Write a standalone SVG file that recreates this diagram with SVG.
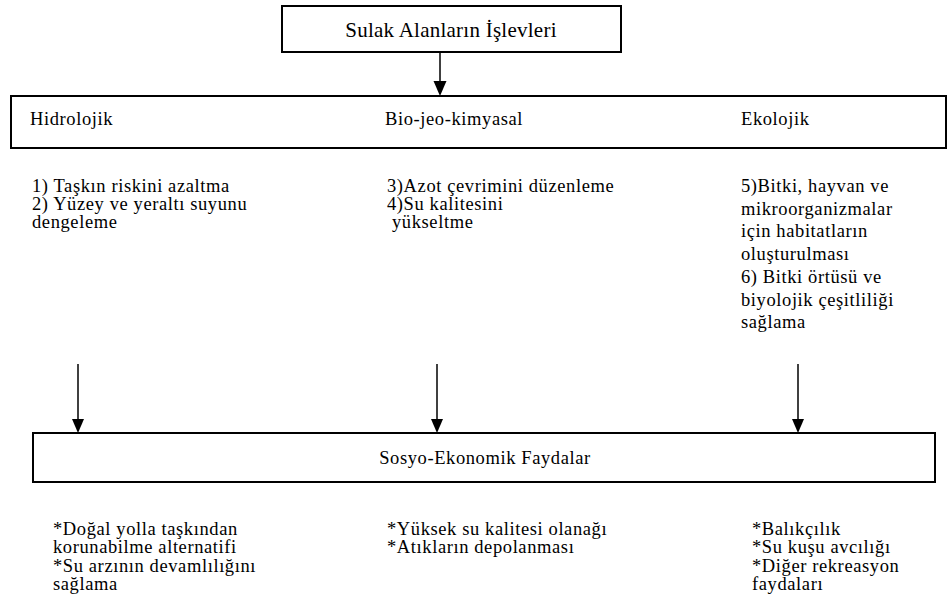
<svg xmlns="http://www.w3.org/2000/svg" width="948" height="606" viewBox="0 0 948 606">
<defs>
<style>
.box{fill:#fff;stroke:#000;stroke-width:2}
.t{font-family:"Liberation Serif","Times New Roman",serif;font-size:18.5px;letter-spacing:0.6px;fill:#000}
.title{font-family:"Liberation Serif","Times New Roman",serif;font-size:21px;letter-spacing:0.25px;fill:#000}
.conn{stroke:#000;stroke-width:1.5;fill:none}
.head{fill:#000}
</style>
</defs>
<rect width="948" height="606" fill="#fff"/>
<g id="connectors">
<line class="conn" x1="440" y1="52" x2="440" y2="81"/>
<path class="head" d="M433.5,81 L446.5,81 L440,96 Z"/>
<line class="conn" x1="78" y1="364" x2="78" y2="419"/>
<path class="head" d="M72,419 L84,419 L78,433 Z"/>
<line class="conn" x1="437" y1="364" x2="437" y2="419"/>
<path class="head" d="M431,419 L443,419 L437,433 Z"/>
<line class="conn" x1="798" y1="364" x2="798" y2="419"/>
<path class="head" d="M792,419 L804,419 L798,433 Z"/>
</g>
<g id="node-functions">
<rect class="box" x="282" y="6" width="339" height="46"/>
<text class="title" x="451" y="37" text-anchor="middle">Sulak Alanların İşlevleri</text>
</g>
<g id="node-categories">
<rect class="box" x="11" y="96" width="935" height="52"/>
<text class="t" x="30" y="125">Hidrolojik</text>
<text class="t" x="385" y="125">Bio-jeo-kimyasal</text>
<text class="t" x="741" y="125">Ekolojik</text>
</g>
<g id="node-hydro-functions">
<text class="t" x="32" y="192">1) Taşkın riskini azaltma</text>
<text class="t" x="32" y="210">2) Yüzey ve yeraltı suyunu</text>
<text class="t" x="32" y="228">dengeleme</text>
</g>
<g id="node-biogeo-functions">
<text class="t" x="387" y="192">3)Azot çevrimini düzenleme</text>
<text class="t" x="387" y="210">4)Su kalitesini</text>
<text class="t" x="392" y="228">yükseltme</text>
</g>
<g id="node-eco-functions">
<text class="t" x="741" y="192">5)Bitki, hayvan ve</text>
<text class="t" x="741" y="214.7">mikroorganizmalar</text>
<text class="t" x="741" y="237.4">için habitatların</text>
<text class="t" x="741" y="260.1">oluşturulması</text>
<text class="t" x="741" y="282.8">6) Bitki örtüsü ve</text>
<text class="t" x="741" y="305.5">biyolojik çeşitliliği</text>
<text class="t" x="741" y="328.2">sağlama</text>
</g>
<g id="node-socioeconomic">
<rect class="box" x="33" y="433" width="902" height="49"/>
<text class="t" x="485" y="464" text-anchor="middle">Sosyo-Ekonomik Faydalar</text>
</g>
<g id="node-hydro-benefits">
<text class="t" x="53" y="535">*Doğal yolla taşkından</text>
<text class="t" x="53" y="553.3">korunabilme alternatifi</text>
<text class="t" x="53" y="571.6">*Su arzının devamlılığını</text>
<text class="t" x="53" y="590">sağlama</text>
</g>
<g id="node-biogeo-benefits">
<text class="t" x="387" y="535">*Yüksek su kalitesi olanağı</text>
<text class="t" x="387" y="553.3">*Atıkların depolanması</text>
</g>
<g id="node-eco-benefits">
<text class="t" x="752" y="535">*Balıkçılık</text>
<text class="t" x="752" y="553.3">*Su kuşu avcılığı</text>
<text class="t" x="752" y="571.6">*Diğer rekreasyon</text>
<text class="t" x="752" y="590">faydaları</text>
</g>
</svg>
